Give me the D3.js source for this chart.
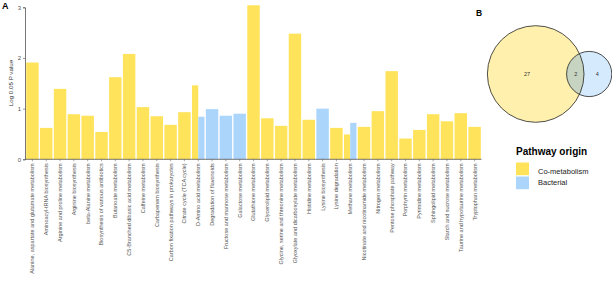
<!DOCTYPE html>
<html>
<head>
<meta charset="utf-8">
<script src="https://cdn.jsdelivr.net/npm/d3@7"></script>
<style>
  body { margin: 0; background: #fff; }
  svg { font-family: "Liberation Sans", Arial, sans-serif; }
</style>
</head>
<body>
<svg id="svg"></svg>
<script>
/* pathway enrichment bar chart + venn */

// categories (x axis)
const pathways = [
  "Alanine, aspartate and glutamate metabolism",
  "Aminoacyl-tRNA biosynthesis",
  "Arginine and proline metabolism",
  "Arginine biosynthesis",
  "beta-Alanine metabolism",
  "Biosynthesis of various antibiotics",
  "Butanoate metabolism",
  "C5-Branched dibasic acid metabolism",
  "Caffeine metabolism",
  "Carbapenem biosynthesis",
  "Carbon fixation pathways in prokaryotes",
  "Citrate cycle (TCA cycle)",
  "D-Amino acid metabolism",
  "Degradation of flavonoids",
  "Fructose and mannose metabolism",
  "Galactose metabolism",
  "Glutathione metabolism",
  "Glycerolipid metabolism",
  "Glycine, serine and threonine metabolism",
  "Glyoxylate and dicarboxylate metabolism",
  "Histidine metabolism",
  "Lysine biosynthesis",
  "Lysine degradation",
  "Methane metabolism",
  "Nicotinate and nicotinamide metabolism",
  "Nitrogen metabolism",
  "Pentose phosphate pathway",
  "Porphyrin metabolism",
  "Pyrimidine metabolism",
  "Sphingolipid metabolism",
  "Starch and sucrose metabolism",
  "Taurine and hypotaurine metabolism",
  "Tryptophan metabolism"
];

// Co-metabolism values (null = not present)
const coValues = [1.91, 0.62, 1.39, 0.89, 0.86, 0.54, 1.62, 2.08, 1.03, 0.85,
  0.68, 0.93, 1.46, null, null, null, 3.04, 0.81, 0.66, 2.48,
  0.78, null, 0.62, 0.49, 0.64, 0.95, 1.74, 0.41, 0.58, 0.89,
  0.75, 0.91, 0.64];

// Bacterial values (null = not present)
const bacValues = [null, null, null, null, null, null, null, null, null, null,
  null, null, 0.84, 0.99, 0.86, 0.90, null, null, null, null,
  null, 1.00, null, 0.72, null, null, null, null, null, null,
  null, null, null];

const yTicks = [0, 1, 2, 3];

const origins = ["Co-metabolism", "Bacterial"];
const colors = { "Co-metabolism": "#FFE35B", "Bacterial": "#ABD5FB" };

// venn counts
const vennCounts = { coOnly: 27, shared: 2, bacOnly: 4 };

const W = 612, H = 283;
const svg = d3.select("#svg").attr("width", W).attr("height", H);

// ---- panel A ----
const x = d3.scaleBand().domain(pathways).range([25.5, 481.5])
  .paddingInner(0.1).paddingOuter(0.05);
const y = d3.scaleLinear().domain([0, 3]).range([159.3, 7.3]);

// flatten bars, dodge when a pathway has both origins
let bars = [];
pathways.forEach((p, i) => {
  let present = [];
  if (coValues[i] != null) present.push({ origin: "Co-metabolism", v: coValues[i] });
  if (bacValues[i] != null) present.push({ origin: "Bacterial", v: bacValues[i] });
  let w = x.bandwidth() / present.length;
  present.forEach((d, j) => {
    bars.push({ p: p, origin: d.origin, v: d.v, x0: x(p) + j * w, w: w });
  });
});

svg.selectAll("rect.bar")
  .data(bars)
  .enter()
  .append("rect")
  .attr("class", "bar")
  .attr("x", d => d.x0)
  .attr("width", d => d.w)
  .attr("y", d => y(Math.max(0, d.v)))
  .attr("height", d => y(0) - y(d.v))
  .style("fill", d => colors[d.origin]);

// y axis
const yAxis = svg.append("g")
  .attr("transform", "translate(25,0)")
  .call(d3.axisLeft(y).tickValues(yTicks).tickFormat(d3.format("d"))
    .tickSize(2).tickPadding(2));
yAxis.select(".domain").attr("stroke", "#555").attr("stroke-width", 0.8);
yAxis.selectAll(".tick line").attr("stroke", "#555").attr("stroke-width", 0.6);
yAxis.selectAll("text").style("font-size", "6px").attr("fill", "#555");

// x axis
const xAxis = svg.append("g")
  .attr("transform", "translate(0,159.3)")
  .call(d3.axisBottom(x).tickSize(2).tickSizeOuter(0).tickPadding(2));
xAxis.select(".domain").attr("stroke", "#555").attr("stroke-width", 0.8)
  .attr("d", "M25,0H481.5");
xAxis.selectAll(".tick line").attr("stroke", "#555").attr("stroke-width", 0.5);
xAxis.selectAll("text")
  .style("font-size", "5.5px")
  .attr("fill", "#555")
  .attr("transform", "rotate(-90)")
  .attr("text-anchor", "end")
  .attr("dy", "0.35em")
  .attr("x", -4)
  .attr("y", 0);

svg.append("text")
  .attr("transform", "translate(13,83) rotate(-90)")
  .attr("text-anchor", "middle")
  .style("font-size", "6.2px")
  .attr("fill", "#333")
  .text("Log 0.05 P value");

svg.append("text").attr("x", 2).attr("y", 9)
  .style("font-size", "9px").style("font-weight", "bold").text("A");

// ---- panel B: venn ----
svg.append("text").attr("x", 476).attr("y", 16)
  .style("font-size", "8.5px").style("font-weight", "bold").text("B");

const circles = [
  { cx: 535.7, cy: 74, r: 48.3, origin: "Co-metabolism" },
  { cx: 589.2, cy: 74, r: 22.6, origin: "Bacterial" }
];
svg.selectAll("circle.venn")
  .data(circles)
  .enter()
  .append("circle")
  .attr("class", "venn")
  .attr("cx", d => d.cx).attr("cy", d => d.cy).attr("r", d => d.r)
  .style("fill", d => colors[d.origin])
  .style("fill-opacity", 0.5);

// darker overlap
svg.append("clipPath").attr("id", "clipBig")
  .append("circle").attr("cx", circles[0].cx).attr("cy", circles[0].cy).attr("r", circles[0].r);
svg.append("circle")
  .attr("cx", circles[1].cx).attr("cy", circles[1].cy).attr("r", circles[1].r)
  .attr("clip-path", "url(#clipBig)")
  .style("fill", "#b9c8b0").style("fill-opacity", 0.55);

svg.selectAll("circle.outline")
  .data(circles)
  .enter()
  .append("circle")
  .attr("class", "outline")
  .attr("cx", d => d.cx).attr("cy", d => d.cy).attr("r", d => d.r)
  .style("fill", "none").style("stroke", "#222").style("stroke-width", 0.8);

const vennLabels = [
  { x: 527, t: vennCounts.coOnly },
  { x: 575.7, t: vennCounts.shared },
  { x: 597.3, t: vennCounts.bacOnly }
];
svg.selectAll("text.vl")
  .data(vennLabels)
  .enter()
  .append("text")
  .attr("class", "vl")
  .attr("x", d => d.x).attr("y", 74)
  .attr("dy", "0.35em")
  .attr("text-anchor", "middle")
  .style("font-size", "5.5px")
  .attr("fill", "#333")
  .text(d => d.t);

// ---- legend ----
svg.append("text").attr("x", 516).attr("y", 155)
  .style("font-size", "10px").style("font-weight", "bold").text("Pathway origin");

const leg = svg.selectAll("g.leg")
  .data(origins)
  .enter()
  .append("g")
  .attr("class", "leg")
  .attr("transform", (d, i) => `translate(516,${162.5 + i * 14})`);
leg.append("rect").attr("width", 13).attr("height", 12.7)
  .style("fill", d => colors[d]);
leg.append("text").attr("x", 22)
  .attr("y", (d, i) => i == 0 ? 9 : 5.5)
  .attr("dy", "0.35em")
  .style("font-size", "7.5px")
  .attr("fill", "#222")
  .text(d => d);
</script>
</body>
</html>
